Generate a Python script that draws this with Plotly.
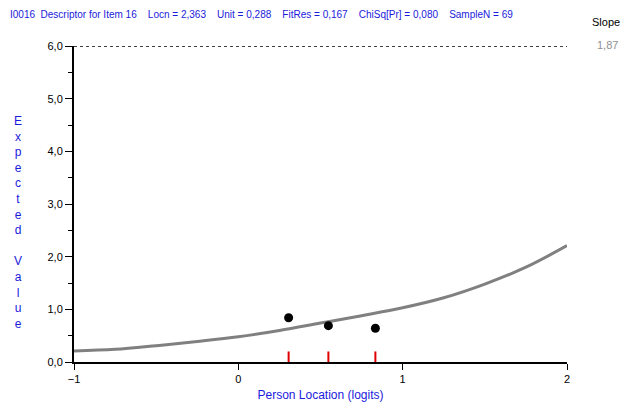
import plotly.graph_objects as go

# expected value curve
curve_x = [-1, -0.75, -0.5, -0.25, 0, 0.25, 0.5, 0.75, 1, 1.25, 1.5, 1.75, 2]
curve_y = [0.21, 0.24, 0.31, 0.39, 0.48, 0.60, 0.74, 0.88, 1.03, 1.22, 1.48, 1.80, 2.21]

# observed class interval means
obs_x = [0.306, 0.548, 0.834]
obs_y = [0.84, 0.69, 0.64]

y_ticks = [0, 1, 2, 3, 4, 5, 6]
x_ticks = [-1, 0, 1, 2]
max_score = 6

header = ("I0016  Descriptor for Item 16    Locn = 2,363    Unit = 0,288    "
          "FitRes = 0,167    ChiSq[Pr] = 0,080    SampleN = 69")
slope_text = "1,87"

blue = "#1a1adc"
font_family = "Liberation Sans, Arial"

# plot area in px (page is offset by the body margin)
L, T, W, H = 66, 38, 493, 316

# red class markers on the x axis
mark_x, mark_y = [], []
for v in obs_x:
    mark_x += [v, v, None]
    mark_y += [0, 0.2, None]

fig = go.Figure()
fig.add_trace(go.Scatter(x=[x_ticks[0], x_ticks[-1]], y=[max_score, max_score], mode="lines",
                         line=dict(color="black", width=1.3, dash="dot"), hoverinfo="skip"))
fig.add_trace(go.Scatter(x=curve_x, y=curve_y, mode="lines",
                         line=dict(color="#808080", width=3, shape="spline")))
fig.add_trace(go.Scatter(x=mark_x, y=mark_y, mode="lines",
                         line=dict(color="#e00000", width=2)))
fig.add_trace(go.Scatter(x=obs_x, y=obs_y, mode="markers",
                         marker=dict(color="black", size=9)))

fig.update_layout(
    width=641, height=408,
    margin=dict(l=L, r=641 - L - W, t=T, b=408 - T - H),
    paper_bgcolor="white", plot_bgcolor="white",
    showlegend=False,
    separators=",.",
    font=dict(family=font_family, size=11, color="black"),
    xaxis=dict(range=[-1, 2], tickvals=x_ticks, ticks="outside", ticklen=6,
               tickwidth=1, tickcolor="black", showline=True, linecolor="black",
               linewidth=2, showgrid=False, zeroline=False,
               title=dict(text="Person Location (logits)", font=dict(color=blue, size=12),
                          standoff=6)),
    yaxis=dict(range=[0, 6], tickvals=y_ticks, tickformat=".1f", ticks="outside",
               ticklen=7, tickwidth=1, tickcolor="black", showline=True,
               linecolor="black", linewidth=2, showgrid=False, zeroline=False,
               minor=dict(dtick=0.5, ticks="outside", ticklen=4, tickcolor="black")),
)

fig.add_annotation(text=header, xref="paper", yref="paper", x=-L / W, y=1 + 31 / H,
                   xanchor="left", yanchor="middle", showarrow=False,
                   font=dict(color=blue, size=10, family=font_family))
fig.add_annotation(text="Slope", xref="paper", yref="paper", x=1 + 39 / W, y=1 + 24 / H,
                   xanchor="center", yanchor="middle", showarrow=False,
                   font=dict(color="black", size=11, family=font_family))
fig.add_annotation(text=slope_text, xref="paper", yref="paper", x=1 + 40 / W, y=1 + 1 / H,
                   xanchor="center", yanchor="middle", showarrow=False,
                   font=dict(color="#909090", size=11, family=font_family))
fig.add_annotation(text="<br>".join(list("Expected") + [" "] + list("Value")),
                   xref="paper", yref="paper", x=-56 / W, y=0.5 - 18 / H, xanchor="center",
                   yanchor="middle", showarrow=False, align="center",
                   font=dict(color=blue, size=12, family=font_family))

fig.write_html("out.html")
